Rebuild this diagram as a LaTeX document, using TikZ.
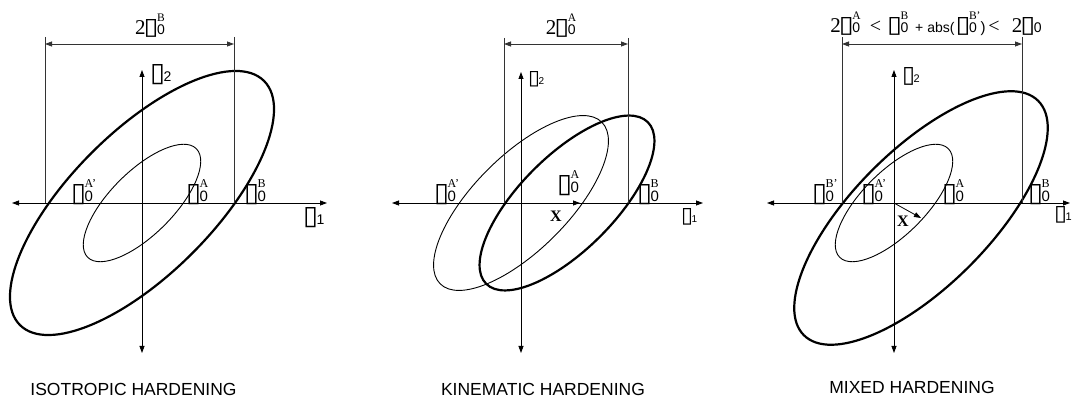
\documentclass[tikz,border=0pt]{standalone}
\usepackage{fontspec}
\usepackage{graphicx}
\setmainfont{Liberation Sans}
\newfontfamily\serf{Liberation Serif}
\newfontfamily\symf{DejaVu Sans}
\usetikzlibrary{arrows.meta}

\newcommand{\gl}[2]{\kern-2pt\resizebox{#1}{#2}{\symf ▯}\kern-1.5pt}
\newcommand{\axl}[4]{\gl{#1}{#2}{\fontsize{#3}{#3}\selectfont #4}}
\newcommand{\sgo}[1]{\gl{15pt}{17pt}\rlap{\fontsize{15}{15}\selectfont 0}\raisebox{14pt}{\fontsize{12}{12}\serf #1}}
\newcommand{\sgd}[1]{\gl{15pt}{15pt}\rlap{\fontsize{14}{14}\selectfont 0}\raisebox{13pt}{\fontsize{11.5}{11.5}\serf #1}}
\newcommand{\two}{{\fontsize{21}{21}\serf 2}}
\newcommand{\lt}{{\fontsize{20}{20}\serf <}}

\begin{document}
\begin{tikzpicture}[x=1pt,y=1pt,>={Triangle[length=7pt,width=5pt]},
  axis/.style={<->,line width=0.8pt},
  yld/.style={line width=2.2pt},
  sub/.style={line width=0.9pt},
  dim/.style={line width=0.8pt,black!80},
  lbl/.style={anchor=base west,inner sep=0pt},
  dlbl/.style={anchor=base,inner sep=0pt},
  ttl/.style={anchor=base,inner sep=0pt,font=\fontsize{17.5}{17.5}\selectfont}]
\useasboundingbox (0,0) rectangle (1072,401);

% isotropic
\begin{scope}[shift={(142,198)}]
  \coordinate (o1) at (0,0);
  \coordinate (w1) at (-130,0); \coordinate (e1) at (185,0);
  \coordinate (s1) at (0,-150); \coordinate (n1) at (0,133);
  \draw[axis] (w1) -- (e1);
  \draw[axis] (s1) -- (n1);
  \draw[yld,rotate=45] (o1) ellipse [x radius=172.6,y radius=71.1];
  \draw[sub,rotate=45] (o1) ellipse [x radius=76.8,y radius=31.6];
  \coordinate (dl1) at (-97,166); \coordinate (dr1) at (92,166);
  \coordinate (al1) at (-97,159); \coordinate (ar1) at (92,159);
  \draw[dim] (dl1) -- (dl1 |- o1);
  \draw[dim] (dr1) -- (dr1 |- o1);
  \draw[dim,<->] (al1) -- (ar1);
  \node[dlbl] (d1) at (8,168) {\two\sgd{B}};
  \node[lbl] (x1) at (163,-22) {\axl{15pt}{17pt}{14}{1}};
  \node[lbl] (y1) at (10,121) {\axl{15pt}{17pt}{14}{2}};
  \node[lbl] (ap1) at (-69,1) {\sgo{A’}};
  \node[lbl] (a1) at (46,1) {\sgo{A}};
  \node[lbl] (b1) at (104,1) {\sgo{B}};
\end{scope}

% kinematic
\begin{scope}[shift={(521,198)}]
  \coordinate (o2) at (0,0);
  \coordinate (c2) at (46,0);
  \coordinate (xt2) at (59,0);
  \coordinate (w2) at (-129,0); \coordinate (e2) at (182,0);
  \coordinate (s2) at (0,-150); \coordinate (n2) at (0,131);
  \draw[axis] (w2) -- (e2);
  \draw[axis] (s2) -- (n2);
  \draw[sub,rotate=45] (o2) ellipse [x radius=114.3,y radius=47.1];
  \draw[yld,rotate=45] (c2) ellipse [x radius=114.3,y radius=47.1];
  \draw[->,line width=0.8pt] (o2) -- (xt2);
  \coordinate (dl2) at (-17,165); \coordinate (dr2) at (107,165);
  \coordinate (al2) at (-17,159); \coordinate (ar2) at (107,159);
  \draw[dim] (dl2) -- (dl2 |- o2);
  \draw[dim] (dr2) -- (dr2 |- o2);
  \draw[dim,<->] (al2) -- (ar2);
  \node[dlbl] (d2) at (40,168) {\two\sgd{A}};
  \node[lbl] (x2) at (162,-20) {\axl{12pt}{14pt}{10}{1}};
  \node[lbl] (y2) at (9,118) {\axl{12pt}{13pt}{10}{2}};
  \node[font={\fontsize{16}{16}\serf\bfseries}] (xl2) at (35,-13) {X};
  \node[lbl] (ap2) at (-85,1) {\sgo{A’}};
  \node[lbl] (a2) at (38,10) {\sgo{A}};
  \node[lbl] (b2) at (118,1) {\sgo{B}};
\end{scope}

% mixed
\begin{scope}[shift={(894,198)}]
  \coordinate (o3) at (0,0);
  \coordinate (c3) at (27,-15);
  \coordinate (w3) at (-127,0); \coordinate (e3) at (176,0);
  \coordinate (s3) at (0,-150); \coordinate (n3) at (0,133);
  \draw[axis] (w3) -- (e3);
  \draw[axis] (s3) -- (n3);
  \draw[sub,rotate=45] (o3) ellipse [x radius=76.8,y radius=31.6];
  \draw[yld,rotate=45] (c3) ellipse [x radius=165.7,y radius=68.3];
  \draw[->,line width=0.8pt] (o3) -- (c3);
  \coordinate (dl3) at (-52,166); \coordinate (dr3) at (128,166);
  \coordinate (al3) at (-52,159); \coordinate (ar3) at (128,159);
  \draw[dim] (dl3) -- (dl3 |- o3);
  \draw[dim] (dr3) -- (dr3 |- o3);
  \draw[dim,<->] (al3) -- (ar3);
  \node[dlbl] (d3) at (42,170) {\two\sgd{A}\hspace{9pt}\lt\hspace{8pt}\sgd{B}\hspace{7pt}{\fontsize{14}{14}\selectfont + abs(}\hspace{3pt}\sgd{B’}{\fontsize{15}{15}\selectfont )}\hspace{3pt}\lt\hspace{12pt}\two\gl{15pt}{15pt}{\fontsize{14}{14}\selectfont 0}};
  \node[lbl] (x3) at (162,-18) {\axl{13pt}{14pt}{11}{1}};
  \node[lbl] (y3) at (10,120) {\axl{13pt}{15pt}{11}{2}};
  \node[font={\fontsize{16}{16}\serf\bfseries}] (xl3) at (9,-18) {X};
  \node[lbl] (bp3) at (-80,1) {\sgo{B’}};
  \node[lbl] (ap3) at (-31,1) {\sgo{A’}};
  \node[lbl] (a3) at (50,1) {\sgo{A}};
  \node[lbl] (b3) at (136,1) {\sgo{B}};
\end{scope}

\node[ttl] (t1) at (133.5,5) {ISOTROPIC HARDENING};
\node[ttl] (t2) at (543,5) {KINEMATIC HARDENING};
\node[ttl] (t3) at (912,7) {MIXED HARDENING};
\end{tikzpicture}
\end{document}
